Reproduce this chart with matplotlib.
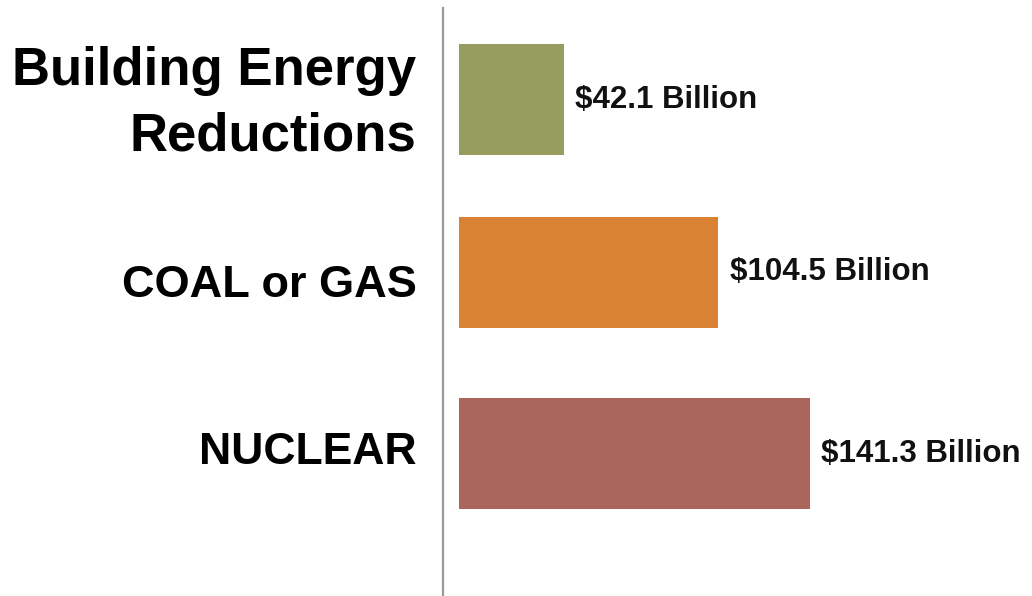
"""Cost comparison: building energy reductions vs. new coal/gas or nuclear supply."""
import matplotlib

matplotlib.use("Agg")
import matplotlib.pyplot as plt

categories = ["Building Energy\nReductions", "COAL or GAS", "NUCLEAR"]
values = [42.1, 104.5, 141.3]
value_labels = ["$42.1 Billion", "$104.5 Billion", "$141.3 Billion"]

colors = ["#969D5F", "#DA8233", "#AA665A"]
cat_sizes = [38, 32.5, 32]
bar_pos = [0, 0.977, 2.0]           # row centres (layout)
label_shift = [0.025, 0.073, -0.007]  # category text nudge vs. bar centre

fig = plt.figure(figsize=(10.32, 5.96), dpi=100)
ax = fig.add_axes([443 / 1032, 0, (1032 - 443) / 1032, 588 / 596])

ax.barh(bar_pos, values, height=0.627, color=colors, edgecolor="none")
ax.set_xlim(-6.44, 230.8)
ax.set_ylim(2.805, -0.517)

for s in ("top", "right", "bottom"):
    ax.spines[s].set_visible(False)
ax.spines["left"].set_color("#9a9a9a")
ax.spines["left"].set_linewidth(1.6)
ax.set_xticks([])
ax.set_yticks([])

for y, v, txt in zip(bar_pos, values, value_labels):
    ax.annotate(txt, xy=(v, y), xytext=(8, 0), textcoords="offset points",
                ha="left", va="center", fontsize=22.5, fontweight="bold",
                family=["Liberation Sans", "DejaVu Sans"], color="#111111")

for y, dy, cat, fs in zip(bar_pos, label_shift, categories, cat_sizes):
    ax.annotate(cat, xy=(0, y + dy), xycoords=("axes fraction", "data"),
                xytext=(-19, 0), textcoords="offset points",
                ha="right", va="center", fontsize=fs, fontweight="bold",
                family=["Liberation Sans", "DejaVu Sans"], linespacing=1.39,
                color="black", annotation_clip=False)

fig.savefig("out.png", dpi=100)
plt.close(fig)
